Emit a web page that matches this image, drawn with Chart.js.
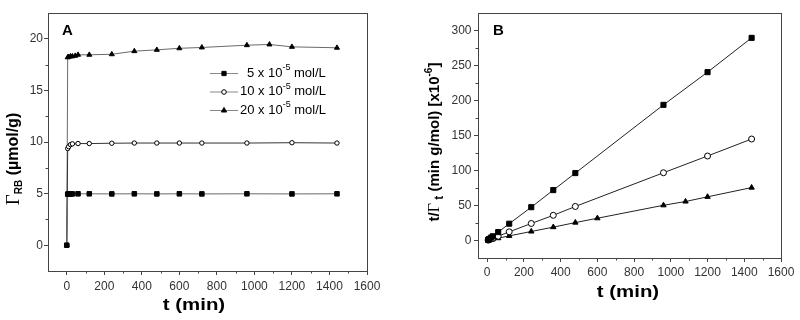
<!DOCTYPE html>
<html>
<head>
<meta charset="utf-8">
<script src="https://cdn.jsdelivr.net/npm/chart.js@4"></script>
<style>
  html, body { margin: 0; padding: 0; background: #fff; }
  #wrap { display: flex; width: 800px; height: 320px; }
  canvas { display: block; }
</style>
</head>
<body>
<div id="wrap">
  <canvas id="chartA" width="400" height="320"></canvas>
  <canvas id="chartB" width="400" height="320"></canvas>
</div>
<script>
"use strict";

// ---- data ----
// panel A: adsorbed amount vs time
const tA_5 = [0, 5, 10, 20, 30, 60, 120, 240, 360, 480, 600, 720, 960, 1200, 1440];
const gA_5 = [0, 4.95, 4.96, 4.97, 4.97, 4.98, 4.98, 4.97, 4.98, 4.97, 4.98, 4.97, 4.98, 4.97, 4.98];
const tA_10 = [0, 5, 10, 20, 30, 60, 120, 240, 360, 480, 600, 720, 960, 1200, 1440];
const gA_10 = [0, 9.37, 9.55, 9.75, 9.82, 9.85, 9.85, 9.88, 9.9, 9.9, 9.9, 9.9, 9.9, 9.93, 9.9];
const tA_20 = [0, 5, 10, 20, 30, 45, 60, 120, 240, 360, 480, 600, 720, 960, 1080, 1200, 1440];
const gA_20 = [0, 18.2, 18.25, 18.3, 18.3, 18.35, 18.45, 18.45, 18.5, 18.8, 18.93, 19.08, 19.16, 19.38, 19.45, 19.22, 19.13];

// panel B: t / Gamma_t vs time
const tB_5 = [5, 10, 20, 30, 60, 120, 240, 360, 480, 960, 1200, 1440];
const vB_5 = [1, 2, 4, 6, 12, 24, 47.6, 72, 96.3, 193.8, 240.5, 289.5];
const tB_10 = [5, 10, 20, 30, 60, 120, 240, 360, 480, 960, 1200, 1440];
const vB_10 = [0.5, 1.05, 2.05, 3.05, 6.1, 12.4, 24.3, 36, 48.6, 96.8, 120.7, 145];
const tB_20 = [5, 10, 20, 30, 60, 120, 240, 360, 480, 600, 960, 1080, 1200, 1440];
const vB_20 = [0.3, 0.55, 1.1, 1.65, 3.3, 6.6, 12.9, 19.1, 25.6, 31.8, 50.3, 55.7, 62.4, 75.6];

const seriesNames = ["5 x 10", "10 x 10", "20 x 10"];
const xTicks = [0, 200, 400, 600, 800, 1000, 1200, 1400, 1600];
const xMinor = [100, 300, 500, 700, 900, 1100, 1300, 1500];
const yTicksA = [0, 5, 10, 15, 20];
const yMinorA = [2.5, 7.5, 12.5, 17.5];
const yTicksB = [0, 50, 100, 150, 200, 250, 300];
const yMinorB = [25, 75, 125, 175, 225, 275];

const SANS = '"Liberation Sans", Arial, sans-serif';
const FRAME = "#444";
const TICKTXT = "#333";

const toXY = (xs, ys) => xs.map((x, i) => ({ x: x, y: ys[i] }));

// marker styles for the three concentrations
const markers = [
  { pointStyle: "rect", fill: "#000", stroke: "#000" },
  { pointStyle: "circle", fill: "#fff", stroke: "#000" },
  { pointStyle: "triangle", fill: "#000", stroke: "#000" },
];

const makeSet = (data, k, lineColor, radii) => ({
  data: data,
  showLine: true,
  borderColor: lineColor,
  borderWidth: 1,
  pointStyle: markers[k].pointStyle,
  pointRadius: radii[k],
  pointHoverRadius: radii[k],
  pointBackgroundColor: markers[k].fill,
  pointBorderColor: markers[k].stroke,
  pointBorderWidth: 1,
});

// draw a line of text made of runs (sub/superscripts), optionally rotated
function drawRuns(ctx, runs, cx, cy, rotate, stretch) {
  ctx.save();
  ctx.translate(cx, cy);
  if (rotate) ctx.rotate(-Math.PI / 2);
  if (stretch) ctx.scale(stretch, 1);
  let total = 0;
  runs.forEach((r) => { ctx.font = r.f; r.w = ctx.measureText(r.t).width; total += r.w; });
  let x = -total / 2;
  ctx.textBaseline = "middle";
  ctx.textAlign = "left";
  ctx.fillStyle = "#000";
  runs.forEach((r) => {
    ctx.font = r.f;
    ctx.fillText(r.t, x, r.dy || 0);
    x += r.w;
  });
  ctx.restore();
}

const decor = {
  id: "decor",
  afterDraw(chart, args, o) {
    const ctx = chart.ctx;
    const a = chart.chartArea;
    const xs = chart.scales.x, ys = chart.scales.y;
    ctx.save();
    // frame
    ctx.strokeStyle = FRAME;
    ctx.lineWidth = 1;
    ctx.strokeRect(Math.round(a.left) + 0.5, Math.round(a.top) + 0.5,
      Math.round(a.right - a.left), Math.round(a.bottom - a.top));
    // minor ticks
    ctx.beginPath();
    o.xMinor.forEach((v) => {
      const px = Math.round(xs.getPixelForValue(v)) + 0.5;
      ctx.moveTo(px, Math.round(a.bottom)); ctx.lineTo(px, Math.round(a.bottom) + 2.5);
    });
    o.yMinor.forEach((v) => {
      const py = Math.round(ys.getPixelForValue(v)) + 0.5;
      ctx.moveTo(Math.round(a.left), py); ctx.lineTo(Math.round(a.left) - 2.5, py);
    });
    ctx.stroke();
    // panel letter
    ctx.fillStyle = "#000";
    ctx.font = "bold 15px " + SANS;
    ctx.textBaseline = "middle";
    ctx.fillText(o.letter, a.left + o.letterDx, o.letterY);
    // axis titles
    drawRuns(ctx, [{ t: "t (min)", f: "bold 17px " + SANS }], o.xTitleX, o.xTitleY, false, 1.2);
    drawRuns(ctx, o.yTitle, o.yTitleX, o.yTitleY, true);
    // legend
    if (o.legend) {
      o.legend.rows.forEach((row, k) => {
        const y = o.legend.y[k];
        ctx.strokeStyle = o.legend.line;
        ctx.beginPath();
        ctx.moveTo(o.legend.x0, y + 0.5); ctx.lineTo(o.legend.x1, y + 0.5);
        ctx.stroke();
        ctx.fillStyle = markers[k].fill;
        ctx.strokeStyle = markers[k].stroke;
        Chart.helpers.drawPoint(ctx, { pointStyle: markers[k].pointStyle, radius: o.legend.r[k], rotation: 0, borderWidth: 1 },
          (o.legend.x0 + o.legend.x1) / 2, y + 0.5);
        ctx.fillStyle = "#000";
        ctx.font = "13px " + SANS;
        ctx.textBaseline = "middle";
        let x = o.legend.tx + (k === 0 ? 7 : 0);
        ctx.fillText(row, x, y);
        x += ctx.measureText(row).width;
        ctx.font = "9px " + SANS;
        ctx.fillText("-5", x, y - 5);
        x += ctx.measureText("-5").width;
        ctx.font = "13px " + SANS;
        ctx.fillText(" mol/L", x, y);
      });
    }
    ctx.restore();
  },
};

function axis(min, max, ticks, size, isX, pad) {
  return {
    type: "linear",
    min: min,
    max: max,
    afterBuildTicks: (s) => { s.ticks = ticks.map((v) => ({ value: v })); },
    afterFit: (s) => { if (isX) s.height = size; else s.width = size; },
    ticks: {
      font: { family: SANS, size: 12 }, color: TICKTXT, padding: pad, maxRotation: 0, autoSkip: false,
      callback: (v) => String(v),
    },
    grid: { drawOnChartArea: false, tickLength: 4, tickColor: FRAME },
    border: { display: false },
    title: { display: false },
  };
}

function baseOptions(padRight, scales, decorOpts) {
  return {
    responsive: false,
    animation: false,
    layout: { padding: { top: 13, right: padRight, left: 0, bottom: 0 } },
    scales: scales,
    plugins: { legend: { display: false }, tooltip: { enabled: false }, decor: decorOpts },
  };
}

const radA = [3.2, 2.2, 2.9];
new Chart(document.getElementById("chartA"), {
  type: "scatter",
  data: {
    datasets: [
      makeSet(toXY(tA_5, gA_5), 0, "#6a6a6a", radA),
      makeSet(toXY(tA_10, gA_10), 1, "#333", radA),
      makeSet(toXY(tA_20, gA_20), 2, "#6a6a6a", radA),
    ],
  },
  options: baseOptions(33, {
    x: axis(-100, 1600, xTicks, 49, true, 4),
    y: axis(-2.5, 22.5, yTicksA, 48, false, 1),
  }, {
    letter: "A", letterDx: 14, letterY: 31,
    xMinor: xMinor, yMinor: yMinorA,
    xTitleX: 194, xTitleY: 305,
    yTitleX: 14, yTitleY: 159,
    yTitle: [
      { t: "Γ", f: '19px "Liberation Serif", serif' },
      { t: "RB", f: "bold 10px " + SANS, dy: 5 },
      { t: " (µmol/g)", f: "bold 16px " + SANS },
    ],
    legend: { rows: seriesNames, y: [73, 91.5, 110], x0: 210, x1: 238, tx: 240, r: [3, 2.3, 3], line: "#888" },
  }),
  plugins: [decor],
});

const radB = [3.6, 3, 3.1];
new Chart(document.getElementById("chartB"), {
  type: "scatter",
  data: {
    datasets: [
      makeSet(toXY(tB_5, vB_5), 0, "#222", radB),
      makeSet(toXY(tB_10, vB_10), 1, "#222", radB),
      makeSet(toXY(tB_20, vB_20), 2, "#222", radB),
    ],
  },
  options: baseOptions(19, {
    x: axis(-50, 1600, xTicks, 62, true, 3.5),
    y: axis(-25, 325, yTicksB, 78, false, 2.5),
  }, {
    letter: "B", letterDx: 15, letterY: 31,
    xMinor: xMinor, yMinor: yMinorB,
    xTitleX: 228, xTitleY: 292,
    yTitleX: 35, yTitleY: 142,
    yTitle: [
      { t: "t/", f: "bold 15px " + SANS },
      { t: "Γ", f: '16px "Liberation Serif", serif' },
      { t: " t", f: "bold 12px " + SANS, dy: 5 },
      { t: " (min g/mol) [x10", f: "bold 15px " + SANS },
      { t: "-6", f: "bold 10px " + SANS, dy: -6 },
      { t: "]", f: "bold 15px " + SANS },
    ],
  }),
  plugins: [decor],
});
</script>
</body>
</html>
